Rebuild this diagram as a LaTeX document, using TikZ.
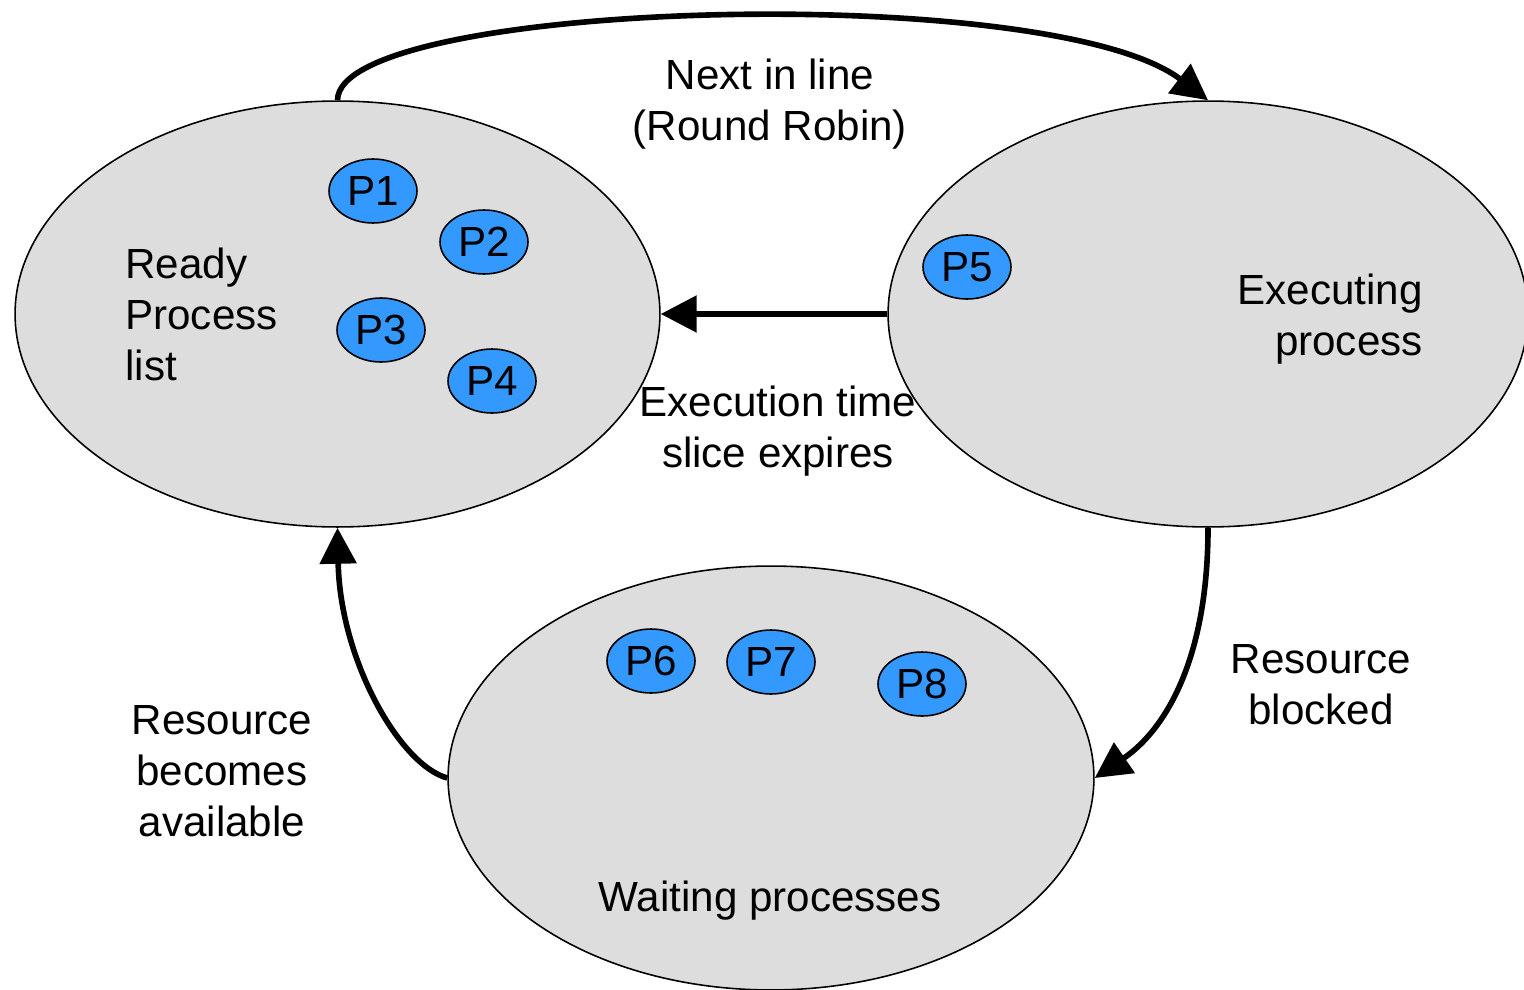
\documentclass[tikz,border=0pt]{standalone}
\usepackage{fontspec}
\setmainfont{Liberation Sans}
\usetikzlibrary{shapes.geometric,arrows.meta}
\definecolor{stategray}{HTML}{DDDDDD}
\definecolor{procblue}{HTML}{3399FF}
\begin{document}
\begin{tikzpicture}[x=0.02cm,y=-0.02cm,
  state/.style={ellipse,draw=black,line width=0.9pt,fill=stategray,inner sep=0pt,minimum height=8.52cm},
  proc/.style={ellipse,draw=black,line width=0.9pt,fill=procblue,inner sep=0pt,minimum width=1.76cm,minimum height=1.28cm,font=\fontsize{24}{29}\selectfont},
  lbl/.style={font=\fontsize{24}{29}\selectfont,inner sep=0pt},
  flow/.style={line width=3.2pt,-{Triangle[length=0.72cm,width=0.72cm]}}]
\useasboundingbox (0,0) rectangle (1524,990);
\node[state,minimum width=12.9cm] (ready) at (337.5,314) {};
\node[state,minimum width=12.8cm] (exec) at (1208,314) {};
\node[state,minimum width=12.92cm,minimum height=8.48cm] (wait) at (771,778) {};
\node[proc] (p1) at (373,191) {P1};
\node[proc] (p2) at (484,242) {P2};
\node[proc] (p3) at (381,330) {P3};
\node[proc] (p4) at (492,381) {P4};
\node[proc] (p5) at (967,267) {P5};
\node[proc] (p6) at (651,661) {P6};
\node[proc] (p7) at (771,662) {P7};
\node[proc] (p8) at (922,684) {P8};
\draw[flow] (ready.north) .. controls (338,0) and (1050,-20) .. (exec.north);
\draw[flow] (exec.west) -- (ready.east);
\draw[flow] (exec.south) .. controls (1208,660) and (1165,730) .. (wait.east);
\draw[flow] (wait.west) .. controls (400,765) and (340,660) .. (ready.south);
\node[lbl,align=center] (t1) at (770,104) {Next in line\\(Round Robin)};
\node[lbl,align=center] (t2) at (778,431) {Execution time\\slice expires};
\node[lbl,align=left,anchor=west] (t3) at (125,314) {Ready\\Process\\list};
\node[lbl,align=right,anchor=east] (t4) at (1423,319) {Executing\\process};
\node[lbl,align=center] (t5) at (1321,685) {Resource\\blocked};
\node[lbl,align=center] (t6) at (222,771) {Resource\\becomes\\available};
\node[lbl,align=center] (t7) at (770,901) {Waiting processes};
\end{tikzpicture}
\end{document}
